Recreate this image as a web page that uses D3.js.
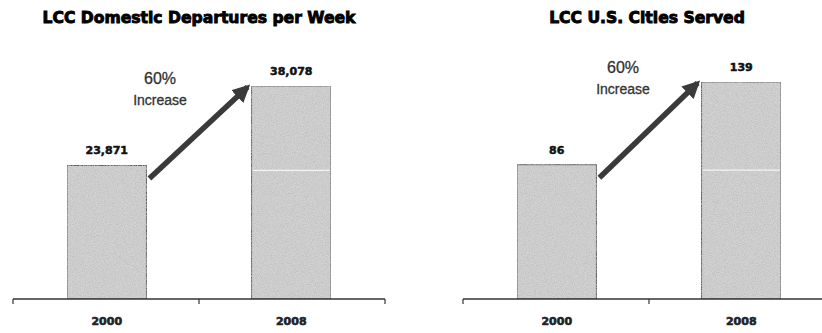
<!DOCTYPE html>
<html>
<head>
<meta charset="utf-8">
<script src="https://cdn.jsdelivr.net/npm/d3@7"></script>
<style>
  html, body { margin: 0; padding: 0; background: #fff; }
  svg { display: block; }
</style>
</head>
<body>
<svg id="chart" width="822" height="333"></svg>
<script>
// Data
const years = ["2000", "2008"];
const departures = [23871, 38078];
const cities = [86, 139];
const titles = ["LCC Domestic Departures per Week", "LCC U.S. Cities Served"];
const increaseLabel = ["60%", "Increase"];

const svg = d3.select("#chart");

// Grainy fill for the bars
const defs = svg.append("defs");
const noise = defs.append("filter").attr("id", "grain")
  .attr("x", 0).attr("y", 0).attr("width", 1).attr("height", 1);
noise.append("feTurbulence").attr("type", "fractalNoise")
  .attr("baseFrequency", 1.1).attr("numOctaves", 2).attr("seed", 3).attr("result", "n");
noise.append("feColorMatrix").attr("in", "n").attr("type", "matrix")
  .attr("values", "0 0 0 0 0.5  0 0 0 0 0.5  0 0 0 0 0.5  0 0 0 -1.8 1.15").attr("result", "dots");
noise.append("feComposite").attr("in", "dots").attr("in2", "SourceGraphic").attr("operator", "in").attr("result", "d2");
noise.append("feMerge").selectAll("feMergeNode").data(["SourceGraphic", "d2"]).enter()
  .append("feMergeNode").attr("in", d => d);

const arrowMarker = defs.append("marker").attr("id", "head")
  .attr("viewBox", "0 0 10 10").attr("refX", 8).attr("refY", 5)
  .attr("markerWidth", 3.2).attr("markerHeight", 3.2)
  .attr("orient", "auto");
arrowMarker.append("path").attr("d", "M0,0 L10,5 L0,10 z").attr("fill", "#3a3a3a");

function panel(cfg) {
  const g = svg.append("g");
  const x = d3.scaleBand().domain(years)
    .range([cfg.x0, cfg.x0 + 372])
    .paddingInner(0.57).paddingOuter(0.293);
  const y = d3.scaleLinear().domain([0, cfg.max]).range([299, cfg.top]);

  // title
  g.append("text")
    .attr("x", cfg.titleX).attr("y", 23)
    .attr("text-anchor", "middle")
    .attr("font-family", "DejaVu Sans, sans-serif")
    .attr("font-weight", "bold")
    .attr("font-size", 15.6)
    .attr("fill", "#000").attr("stroke", "#000").attr("stroke-width", 0.9)
    .text(cfg.title);

  // bars
  g.selectAll("rect.bar").data(cfg.values).enter().append("rect")
    .attr("class", "bar")
    .attr("x", (d, i) => x(years[i]))
    .attr("y", d => y(d))
    .attr("width", x.bandwidth())
    .attr("height", d => 299 - y(d))
    .attr("fill", "#d2d2d2")
    .attr("stroke", "#5a5a5a").attr("stroke-width", 1)
    .attr("filter", "url(#grain)");

  // faint gridline showing through the taller bar
  g.selectAll("line.grid").data(cfg.values).enter().append("line")
    .attr("x1", (d, i) => x(years[i]) + 1)
    .attr("x2", (d, i) => x(years[i]) + x.bandwidth() - 1)
    .attr("y1", y(cfg.grid)).attr("y2", y(cfg.grid))
    .attr("stroke", d => y(d) < y(cfg.grid) - 20 ? "#f4f4f4" : "none")
    .attr("stroke-width", 1.2);

  // value labels
  g.selectAll("text.val").data(cfg.values).enter().append("text")
    .attr("class", "val")
    .attr("x", (d, i) => x(years[i]) + x.bandwidth() / 2)
    .attr("y", d => y(d) - 11)
    .attr("text-anchor", "middle")
    .attr("font-family", "DejaVu Sans, sans-serif")
    .attr("font-weight", "bold").attr("font-size", 11)
    .attr("fill", "#111").attr("stroke", "#111").attr("stroke-width", 0.5)
    .text(d => d3.format(",")(d));

  // category axis
  const axisY = 299;
  const x1 = cfg.x0, x2 = Math.min(cfg.x0 + 372, 822);
  g.append("line").attr("x1", x1).attr("x2", x2).attr("y1", axisY).attr("y2", axisY)
    .attr("stroke", "#333").attr("stroke-width", 1.4);
  const tickXs = [cfg.x0, (x(years[0]) + x.bandwidth() + x(years[1])) / 2, cfg.x0 + 372]
    .filter(t => t <= 822);
  g.selectAll("line.tick").data(tickXs).enter().append("line")
    .attr("x1", d => d).attr("x2", d => d).attr("y1", axisY).attr("y2", axisY + 5)
    .attr("stroke", "#333").attr("stroke-width", 1.2);
  g.selectAll("text.year").data(years).enter().append("text")
    .attr("x", d => x(d) + x.bandwidth() / 2)
    .attr("y", 325)
    .attr("text-anchor", "middle")
    .attr("font-family", "DejaVu Sans, sans-serif")
    .attr("font-weight", "bold").attr("font-size", 11)
    .attr("fill", "#222").attr("stroke", "#222").attr("stroke-width", 0.6)
    .text(d => d);

  // growth arrow from the first bar to the second
  const ax0 = x(years[0]) + x.bandwidth() + 3, ay0 = y(cfg.values[0]) + 13;
  const ax1 = x(years[1]) - 4, ay1 = y(cfg.values[1]) + 1;
  g.append("line")
    .attr("x1", ax0).attr("y1", ay0).attr("x2", ax1).attr("y2", ay1)
    .attr("stroke", "#3a3a3a").attr("stroke-width", 5.5)
    .attr("marker-end", "url(#head)");

  // increase note
  g.selectAll("text.note").data(increaseLabel).enter().append("text")
    .attr("x", cfg.noteX)
    .attr("y", (d, i) => cfg.noteY + i * 21)
    .attr("text-anchor", "middle")
    .attr("font-family", "Liberation Sans, Arial, sans-serif")
    .attr("font-size", (d, i) => i === 0 ? 16 : 14)
    .attr("fill", "#333").attr("stroke", "#333").attr("stroke-width", 0.3)
    .text(d => d);
}

panel({ x0: 13, values: departures, max: 40000, top: 299 - 213 * 40000 / 38078,
  grid: 23000, title: titles[0], titleX: 199, noteX: 160, noteY: 84 });
panel({ x0: 463, values: cities, max: 140, top: 299 - 217 * 140 / 139,
  grid: 82.5, title: titles[1], titleX: 647, noteX: 623, noteY: 73 });
</script>
</body>
</html>
